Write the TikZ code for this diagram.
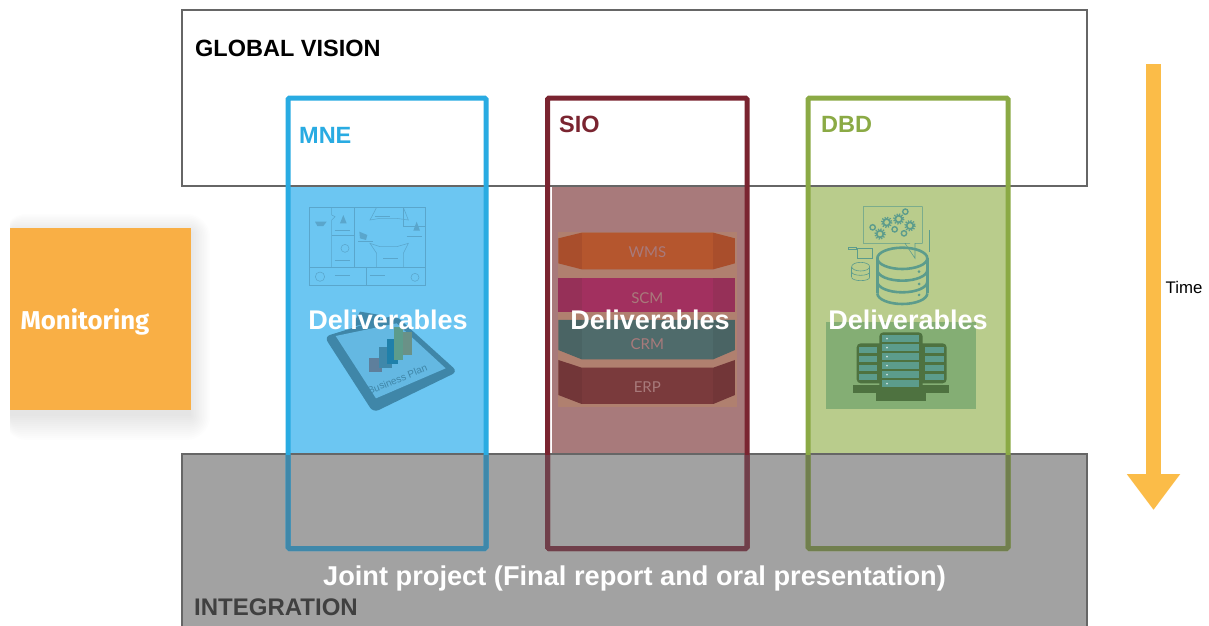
\documentclass[tikz,border=0pt]{standalone}
\usepackage{fontspec}
\setmainfont{Liberation Sans}
\newfontfamily\mono{Fira Sans}
\newfontfamily\lato{Lato}
\usetikzlibrary{arrows.meta}
\definecolor{cblue}{HTML}{29ABE2}
\definecolor{cred}{HTML}{7A2430}
\definecolor{cgreen}{HTML}{8BAA45}
\definecolor{lblue}{HTML}{3F88AA}
\definecolor{lred}{HTML}{703F4A}
\definecolor{lgreen}{HTML}{717F4E}
\definecolor{fblue}{HTML}{6CC6F2}
\definecolor{fred}{HTML}{A87A7B}
\definecolor{fgreen}{HTML}{B9CC8C}
\definecolor{orangeb}{HTML}{F9AF45}
\definecolor{yarrow}{HTML}{FBBC48}
\definecolor{bline}{HTML}{666666}
\definecolor{grayb}{HTML}{A2A2A2}
\definecolor{iconblue}{HTML}{5AA6CC}
\definecolor{clipb}{HTML}{3F86A8}
\definecolor{clipp}{HTML}{64B8E2}
\definecolor{graybar}{HTML}{5E7F9C}
\definecolor{teal}{HTML}{5C9C8C}
\definecolor{stackbg}{HTML}{B0806F}
\definecolor{swms}{HTML}{B5562E}
\definecolor{swmsd}{HTML}{A94E2C}
\definecolor{sscm}{HTML}{A2305F}
\definecolor{sscmd}{HTML}{963058}
\definecolor{scrm}{HTML}{4F6B6B}
\definecolor{scrmd}{HTML}{4A6464}
\definecolor{serp}{HTML}{7A3A3C}
\definecolor{serpd}{HTML}{723638}
\definecolor{dbg}{HTML}{84AE74}
\definecolor{srvd}{HTML}{4E7240}
\tikzset{
  framebox/.style={draw=bline,line width=1.3pt,outer sep=0pt},
  column/.style={draw=#1,line width=5pt,rounded corners=1.5pt,outer sep=0pt},
  zoomA/.style={shift={(#1,190)},x=0.3333pt,y=-0.3333pt},
  title/.style={font=\bfseries\fontsize{23.5}{26}\selectfont,inner sep=0pt},
  deliv/.style={text=white,font=\bfseries\fontsize{27}{30}\selectfont,inner sep=0pt},
  stacklab/.style={text=#1,font=\lato\fontsize{15}{17}\selectfont,inner sep=0pt},
  thinb/.style={draw=iconblue,line width=.55pt},
  thint/.style={draw=teal,line width=.6pt},
}
\begin{document}
\begin{tikzpicture}[x=1pt,y=-1pt]
\useasboundingbox (0,0) rectangle (1209,625);
\fill[white] (0,0) rectangle (1209,625);
% monitoring shadow
\foreach \e in {24,22,...,0}{
  \fill[black,opacity=.007,rounded corners=\e pt] (10-\e*.3,228-\e*.8+5) rectangle (191+\e*.8,410+\e+6);
}
\fill[white] (0,200) rectangle (10,450);
\node[fill=orangeb,minimum width=181pt,minimum height=182pt,inner sep=0pt,outer sep=0pt,anchor=north west] (mon) at (10,228) {};
\node[text=white,font=\mono\bfseries\fontsize{25.8}{28}\selectfont,inner sep=0pt] (montext) at (85,322) {Monitoring};
% global
\node[framebox,minimum width=905pt,minimum height=176pt,inner sep=0pt,anchor=north west] (global) at (182,10) {};
% column fills
\fill[fblue] (288,186.8) rectangle (486,454);
\fill[white] (550,186.8) rectangle (552,454);
\fill[fred] (552,186.8) rectangle (747,454);
\fill[fgreen] (808,186.8) rectangle (1008,454);
% integration
\fill[grayb] (182,454) rectangle (1087,630);
\draw[framebox] (182,630) -- (182,454) -- (1087,454) -- (1087,630);
% columns
\node[column=cblue,minimum width=198pt,minimum height=450.5pt,inner sep=0pt,anchor=north west] (mne) at (288,98) {};
\node[column=cred,minimum width=199.5pt,minimum height=450.5pt,inner sep=0pt,anchor=north west] (sio) at (547.5,98) {};
\node[column=cgreen,minimum width=200pt,minimum height=450.5pt,inner sep=0pt,anchor=north west] (dbd) at (808,98) {};
\begin{scope}
\clip (0,455) rectangle (1209,625);
\draw[column=lblue] (288,98) rectangle (486,548.5);
\draw[column=lred] (547.5,98) rectangle (747,548.5);
\draw[column=lgreen] (808,98) rectangle (1008,548.5);
\end{scope}
% MNE icons
\begin{scope}[zoomA=280]
\draw[thinb] (88,52) rectangle (435,232);
\draw[thinb] (88,232) rectangle (435,285);
\draw[thinb] (260,232) -- (260,285);
\draw[thinb] (155,52) -- (155,75) -- (165,80) -- (155,90) -- (155,232);
\draw[thinb] (155,135) -- (222,135);
\draw[thinb] (222,52) -- (222,232);
\draw[thinb] (290,232) -- (290,190) -- (270,160) -- (300,170) -- (350,170) -- (385,160) -- (370,190) -- (370,232);
\draw[thinb] (290,52) -- (270,90) -- (300,85) -- (350,85) -- (385,90) -- (370,52);
\draw[thinb] (370,52) -- (370,110) -- (435,110);
\fill[iconblue] (105,95) -- (140,95) -- (130,108) -- (112,108) -- cycle;
\fill[iconblue] (190,75) -- (200,100) -- (180,100) -- cycle;
\fill[iconblue] (238,125) -- (262,135) -- (258,150) -- (240,145) -- cycle;
\fill[iconblue] (410,95) -- (420,122) -- (400,122) -- cycle;
\draw[thinb] (195,175) circle (12);
\draw[thinb] (120,260) circle (14);
\draw[thinb] (405,262) circle (12);
\foreach \p/\q in {165/120,165/210,235/155,285/80,380/140,310/205,165/255,270/255}{
  \draw[iconblue,line width=.4pt] (\p,\q) -- ++(45,0);
}
% clipboard
\fill[rounded corners=6pt,fill=clipb] (133,440) -- (345,375) -- (533,545) -- (280,668) -- cycle;
\fill[clipp] (167,438) -- (350,400) -- (497,535) -- (288,625) -- cycle;
\fill[clipb] (215,410) -- (240,365) -- (300,375) -- (300,395) -- cycle;
\fill[graybar] (268,505) rectangle (305,545);
\fill[lblue] (297,470) rectangle (335,535);
\fill[cblue!75!black] (320,447) rectangle (355,522);
\fill[teal] (342,412) rectangle (368,510);
\fill[teal!60!gray] (368,425) rectangle (395,495);
\node[text=clipb,rotate=22,font=\fontsize{10}{12}\selectfont,inner sep=0pt] (bplan) at (352,568) {Business Plan};
\end{scope}
% SIO stack
\begin{scope}[zoomA=540]
\fill[stackbg] (55,125) rectangle (592,650);
\fill[swmsd] (55,145) -- (125,128) -- (520,128) -- (585,145) -- (585,220) -- (520,238) -- (125,238) -- (55,220) -- cycle;
\fill[swms] (125,128) rectangle (520,238);
\fill[sscmd] (55,265) rectangle (585,365);
\fill[sscm] (125,265) rectangle (520,365);
\fill[scrmd] (55,390) -- (585,390) -- (585,480) -- (520,508) -- (125,508) -- (55,480) -- cycle;
\fill[scrm] (125,390) rectangle (520,508);
\fill[serpd] (55,510) -- (125,533) -- (520,533) -- (585,510) -- (585,615) -- (520,642) -- (125,642) -- (55,615) -- cycle;
\fill[serp] (125,533) rectangle (520,642);
\node[stacklab=fred] (wms) at (322,186) {WMS};
\node[stacklab=fred] (scm) at (322,323) {SCM};
\node[stacklab=fred] (crm) at (322,462) {CRM};
\node[stacklab=fred] (erp) at (322,590) {ERP};
\end{scope}
% DBD icons
\begin{scope}[zoomA=800]
\fill[dbg] (78,395) rectangle (528,657);
\draw[thint] (330,160) -- (190,160) -- (190,50) -- (367,50) -- (367,160) -- (345,160) -- (345,205) -- (315,160);
\foreach \p/\q in {240/132,260/97,296/87,330/107}{
  \draw[teal,line width=1.7pt] (\p,\q) circle (10);
  \draw[teal,line width=1.7pt,dash pattern=on 1.2pt off 1.4pt] (\p,\q) circle (15);
}
\foreach \p/\q in {218/112,284/118,316/65,312/130}{
  \draw[teal,line width=1.4pt] (\p,\q) circle (8);
}
\draw[thint] (172,175) rectangle (218,205);
\draw[thint] (145,172) rectangle (168,178);
\draw[thint] (182,230) ellipse (27 and 13);
\draw[thint] (155,230) -- (155,262);
\draw[thint] (209,230) -- (209,262);
\draw[thint] (155,262) arc[start angle=180,end angle=0,x radius=27,y radius=10];
\draw[thint] (155,246) arc[start angle=180,end angle=0,x radius=27,y radius=10];
\draw[thint] (388,120) -- (388,185);
\draw[teal,line width=2.6pt] (232,205) -- (232,310);
\draw[teal,line width=2.6pt] (382,205) -- (382,310);
\draw[teal,line width=2.6pt] (307,205) ellipse (75 and 32);
\foreach \yy in {240,275,310}{
  \draw[teal,line width=2.6pt] (232,\yy) arc[start angle=180,end angle=0,x radius=75,y radius=32];
}
\foreach \yy in {245,282,315}{ \fill[teal] (357,\yy) circle (4.5); }
\def\srv#1#2#3#4{%
  \fill[srvd,rounded corners=4pt] (#1,#3) rectangle (#2,#4);
}
\srv{170}{440}{460}{580}
\fill[srvd] (158,585) rectangle (448,608);
\fill[srvd] (228,605) rectangle (378,632);
\foreach \yy in {470,497,524,551}{
  \fill[teal] (178,\yy) rectangle (232,\yy+18);
  \fill[teal] (376,\yy) rectangle (432,\yy+18);
}
\srv{238}{368}{427}{605}
\foreach \yy in {436,463,490,517,544,571}{
  \fill[teal] (247,\yy) rectangle (358,\yy+20);
  \fill[white!70!teal] (261,\yy+10) circle (3);
}
\end{scope}
% labels
\node[title,anchor=west] (gv) at (195,48) {GLOBAL VISION};
\node[title,anchor=west,text=cblue] (lmne) at (299,135) {MNE};
\node[title,anchor=west,text=cred] (lsio) at (559,124) {SIO};
\node[title,anchor=west,text=cgreen] (ldbd) at (821,124) {DBD};
\node[deliv] (d1) at (388,320) {Deliverables};
\node[deliv] (d2) at (650,320) {Deliverables};
\node[deliv] (d3) at (908,320) {Deliverables};
\node[deliv,font=\bfseries\fontsize{27.2}{30}\selectfont] (jp) at (634.5,578) {Joint project (Final report and oral presentation)};
\node[title,font=\bfseries\fontsize{24}{27}\selectfont,anchor=west,text=black!75] (integ) at (194,607) {INTEGRATION};
% time arrow
\coordinate (tstart) at (1153.5,64);
\coordinate (tend) at (1153.5,510);
\draw[yarrow,line width=15pt,-{Triangle[width=51pt,length=36pt]}] (tstart) -- (tend);
\node[font=\fontsize{16.8}{19}\selectfont,inner sep=0pt] (time) at (1184,287) {Time};
\end{tikzpicture}
\end{document}
